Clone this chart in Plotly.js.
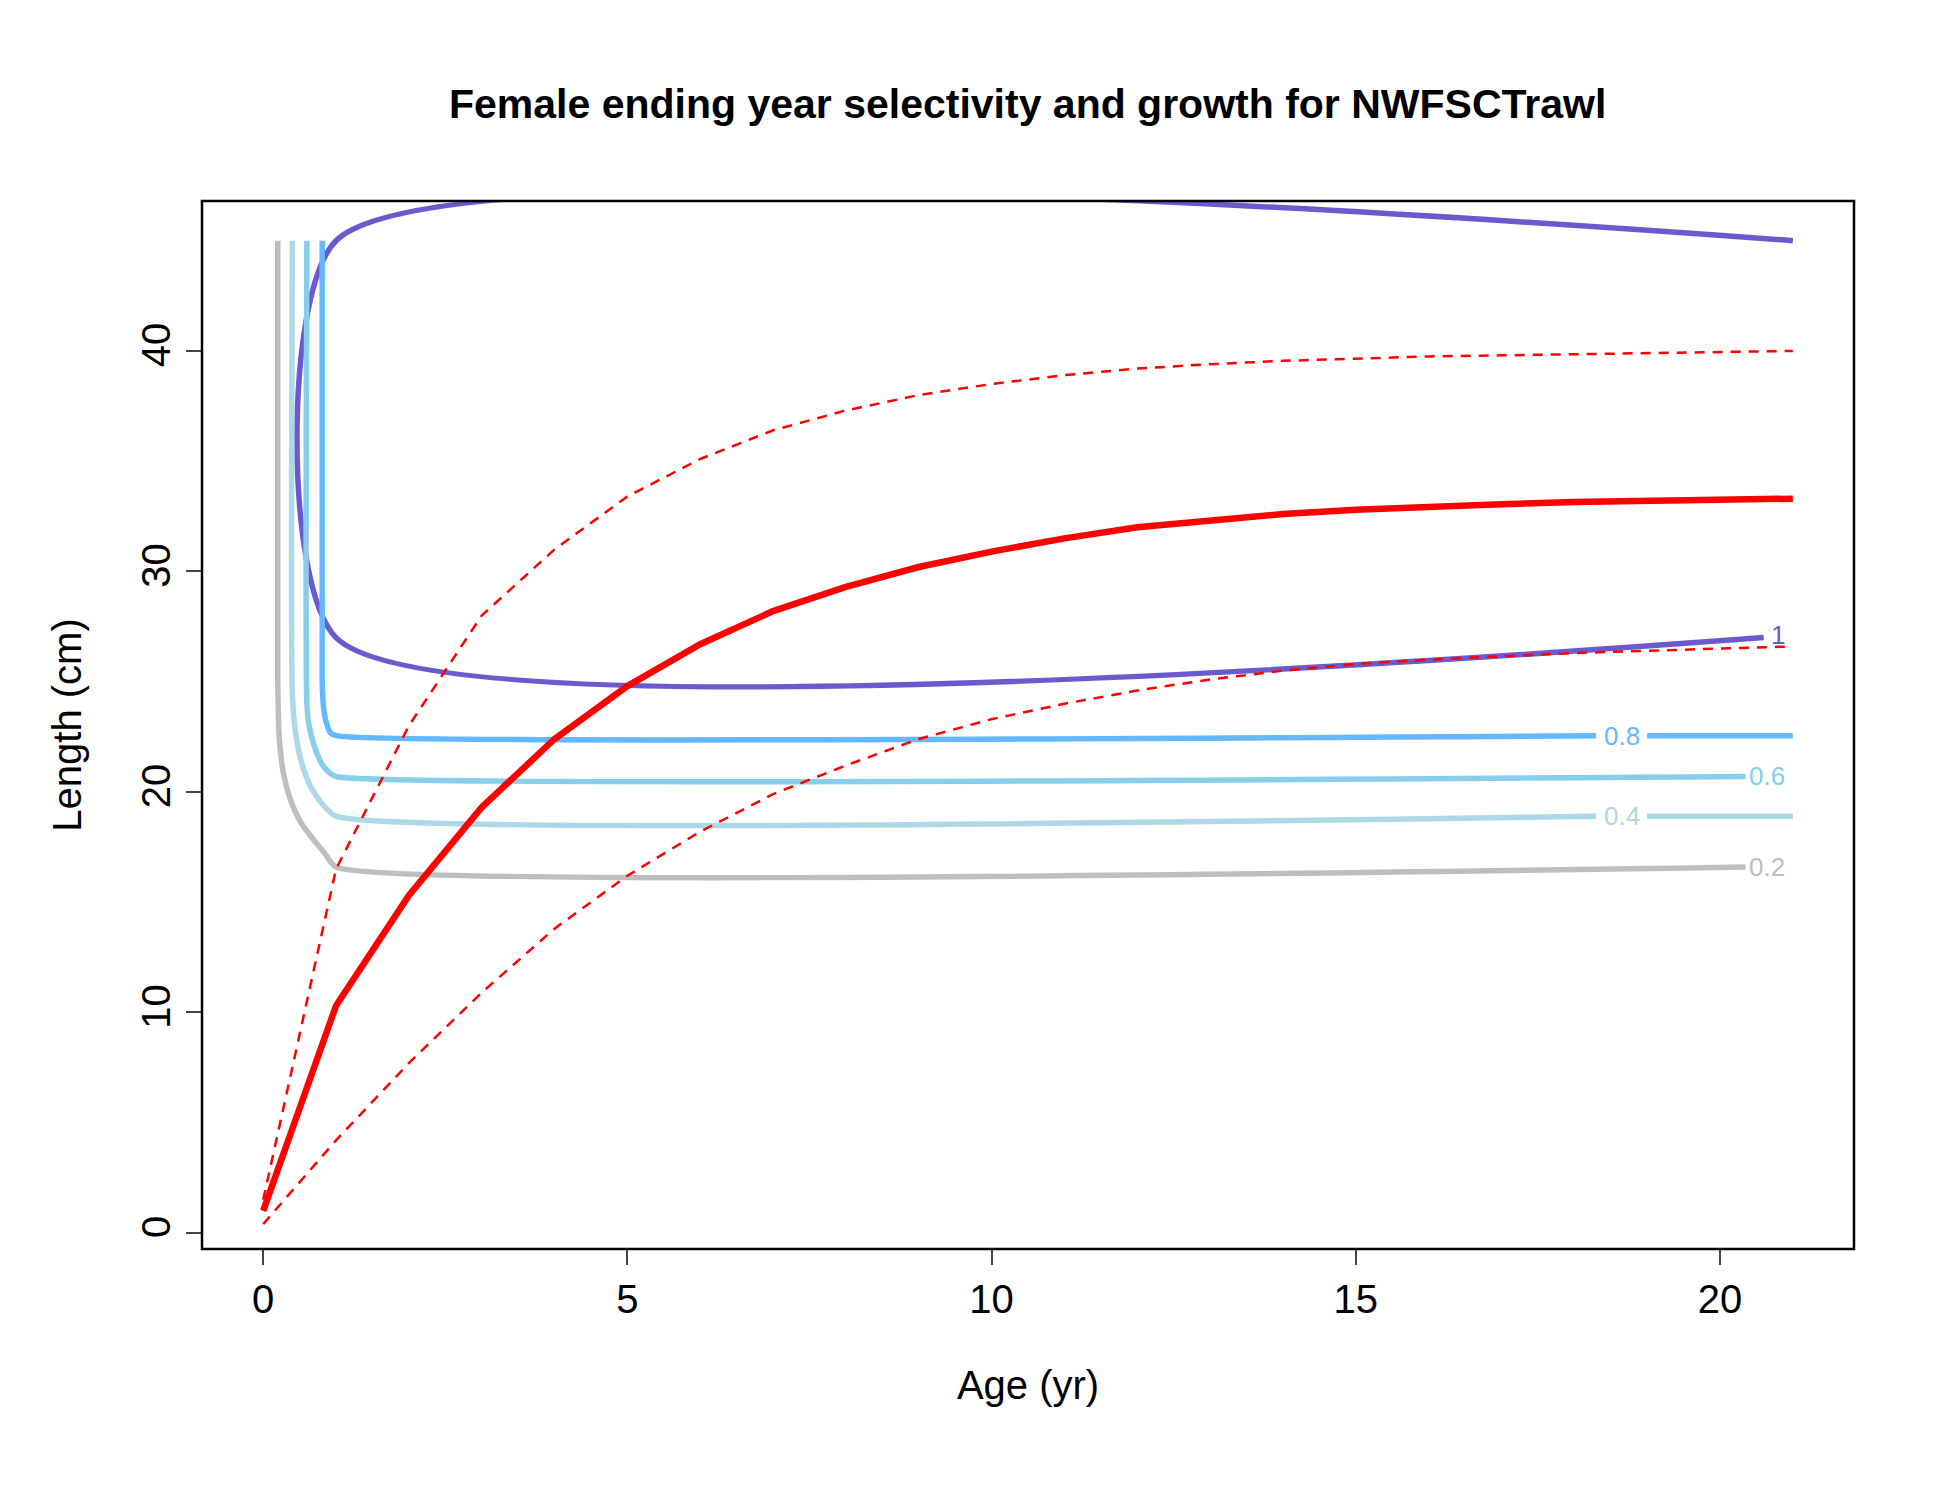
<!DOCTYPE html>
<html>
<head>
<meta charset="utf-8">
<script src="https://cdn.plot.ly/plotly-3.0.1.min.js"></script>
<style>body{margin:0;background:#fff}</style>
</head>
<body>
<div id="plot" style="width:1950px;height:1500px"></div>
<script>
// growth curve by age
var ages = [0,1,2,3,4,5,6,7,8,9,10,11,12,13,14,15,16,17,18,19,20,21];
var lenMean = [1,10.3,15.3,19.3,22.4,24.8,26.7,28.2,29.3,30.2,30.9,31.5,32.0,32.3,32.6,32.8,32.95,33.05,33.15,33.2,33.25,33.3];
var lenUpper = [1.5,16.5,23,28,31,33.4,35.1,36.4,37.3,38.0,38.5,38.9,39.2,39.4,39.55,39.65,39.75,39.8,39.85,39.9,39.95,40.0];
var lenLower = [0.4,4.2,7.7,10.9,13.8,16.2,18.2,19.9,21.2,22.4,23.3,24.0,24.6,25.1,25.5,25.8,26.0,26.15,26.3,26.4,26.5,26.6];

// selectivity contour paths (age, length); null = gap for label
var c10x = [21,1,1,20.6];            var c10y = [45,45,27,27];
var c08x = [0.81,0.81,0.83,0.87,0.92,1,18.3,null,19.0,21];
var c08y = [45,25,23.8,23.1,22.7,22.55,22.55,null,22.55,22.55];
var c06x = [0.6,0.6,0.63,0.7,0.8,0.9,1,20.35];
var c06y = [45,24,23,22.1,21.3,20.9,20.7,20.7];
var c04x = [0.4,0.4,0.44,0.52,0.64,0.8,1,18.3,null,19.0,21];
var c04y = [45,24.5,22.8,21.4,20.3,19.5,18.9,18.9,null,18.9,18.9];
var c02x = [0.2,0.2,0.22,0.28,0.38,0.52,0.7,0.85,1,20.35];
var c02y = [45,25,22.5,20.8,19.6,18.6,17.8,17.2,16.6,16.6];

var levels = ['1','0.8','0.6','0.4','0.2'];
var levelColors = ['#6A5ACD','#63B8FF','#87CEEB','#ADD8E6','#BEBEBE'];
var labelX = [20.8,18.65,20.65,18.65,20.65];
var labelY = [27.1,22.55,20.7,18.9,16.6];

var cx = [c10x,c08x,c06x,c04x,c02x];
var cy = [c10y,c08y,c06y,c04y,c02y];

var data = [];
for (var i = 0; i < levels.length; i++) {
  data.push({x: cx[i], y: cy[i], mode: 'lines', connectgaps: false,
    line: {color: levelColors[i], width: 5.5, shape: 'spline', smoothing: 0.6}, showlegend: false, hoverinfo: 'skip'});
}
data.push({x: ages, y: lenUpper, mode: 'lines', line: {color: 'red', width: 2.5, dash: '10px,8px'}, showlegend: false});
data.push({x: ages, y: lenLower, mode: 'lines', line: {color: 'red', width: 2.5, dash: '10px,8px'}, showlegend: false});
data.push({x: ages, y: lenMean, mode: 'lines', line: {color: 'red', width: 6.5}, showlegend: false});

var annotations = levels.map(function(l, i) {
  return {x: labelX[i], y: labelY[i], text: l, showarrow: false,
    font: {family: 'Liberation Sans, Arial', size: 26, color: levelColors[i]}};
});

var fnt = {family: 'Liberation Sans, Arial', size: 40, color: '#000'};
var layout = {
  width: 1950, height: 1500,
  margin: {l: 202, r: 96, t: 201, b: 251},
  paper_bgcolor: '#fff', plot_bgcolor: '#fff',
  title: {text: '<b>Female ending year selectivity and growth for NWFSCTrawl</b>',
    font: {family: 'Liberation Sans, Arial', size: 41, color: '#000'}, x: 0.527, xanchor: 'center', y: 0.931, yanchor: 'middle'},
  xaxis: {range: [-0.84, 21.84], tickvals: [0,5,10,15,20], ticks: 'outside', ticklen: 15, tickwidth: 2,
    showgrid: false, zeroline: false, showline: false, tickfont: fnt,
    title: {text: 'Age (yr)', font: fnt, standoff: 50}},
  yaxis: {range: [-0.73, 46.8], tickvals: [0,10,20,30,40], ticks: 'outside', ticklen: 15, tickwidth: 2,
    tickangle: -90, showgrid: false, zeroline: false, showline: false, tickfont: fnt,
    title: {text: 'Length (cm)', font: fnt, standoff: 40}},
  shapes: [{type: 'rect', xref: 'paper', yref: 'paper', x0: 0, x1: 1, y0: 0, y1: 1,
    line: {color: '#000', width: 2.5}}],
  annotations: annotations
};
Plotly.newPlot('plot', data, layout, {displayModeBar: false});
</script>
</body>
</html>
